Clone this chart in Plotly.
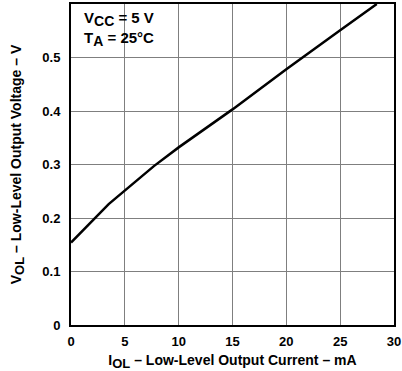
import plotly.graph_objects as go

current_ma = [0, 3.5, 7.7, 10, 15, 20, 25, 28.4]
vol_v = [0.154, 0.226, 0.297, 0.332, 0.403, 0.478, 0.551, 0.6]

x_ticks = [0, 5, 10, 15, 20, 25, 30]
x_ticktext = ["0", "5", "10", "15", "20", "25", "30"]
y_ticks = [0, 0.1, 0.2, 0.3, 0.4, 0.5, 0.6]
y_ticktext = ["0", "0.1", "0.2", "0.3", "0.4", "0.5", "0.6"]

FONT = "Liberation Sans, Arial, Helvetica, sans-serif"


def sub(s, size):
    return "<sub><span style='font-size:%dpx'>%s</span></sub>" % (size, s)


fig = go.Figure()
fig.add_trace(go.Scatter(x=current_ma, y=vol_v, mode="lines",
                         line=dict(color="black", width=2.5), showlegend=False,
                         hoverinfo="skip"))

axis_common = dict(showgrid=True, gridcolor="#7f7f7f", gridwidth=1,
                   zeroline=False, showline=True, linecolor="black", linewidth=2,
                   mirror=True, ticks="outside", automargin=False,
                   tickcolor="rgba(0,0,0,0)",
                   tickfont=dict(family=FONT, size=13, color="black", weight="bold"))

fig.update_xaxes(range=[0, 30], tickvals=x_ticks, ticktext=x_ticktext, ticklen=3,
                 title=dict(text="I" + sub("OL", 13) + " – Low-Level Output Current – mA",
                            font=dict(family=FONT, size=14, color="black", weight="bold"),
                            standoff=8),
                 **axis_common)
fig.update_yaxes(range=[0, 0.6], tickvals=y_ticks, ticktext=y_ticktext, ticklen=6,
                 title=dict(text="V" + sub("OL", 13) + " – Low-Level Output Voltage – V",
                            font=dict(family=FONT, size=14, color="black", weight="bold"),
                            standoff=17),
                 **axis_common)

fig.add_annotation(xref="paper", yref="paper", x=0.035, y=0.99,
                   xanchor="left", yanchor="top", align="left", showarrow=False,
                   text="V" + sub("CC", 14) + " = 5 V<br>T" + sub("A", 14) + " = 25°C",
                   font=dict(family=FONT, size=15, color="black", weight="bold"))

fig.update_layout(width=402, height=371,
                  margin=dict(l=71, r=8, t=4, b=46),
                  paper_bgcolor="white", plot_bgcolor="white")

fig.write_html("out.html", config={"displayModeBar": False},
               post_script="document.body.style.margin='0px';document.body.style.overflow='hidden';")
